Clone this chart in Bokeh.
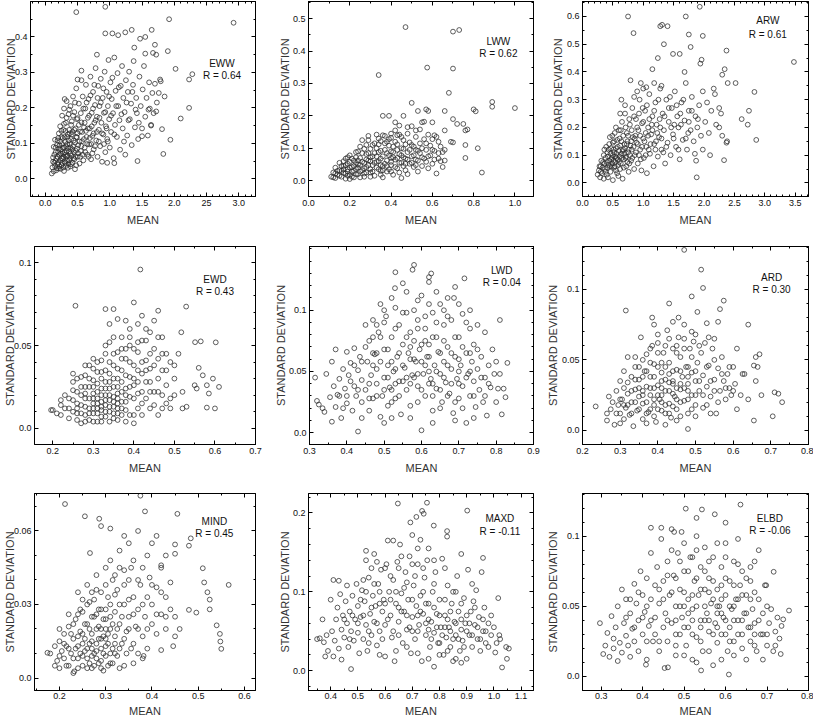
from bokeh.plotting import figure
from bokeh.models import Range1d, FixedTicker, LinearAxis, Label
from bokeh.layouts import column, row
from bokeh.embed import file_html
from bokeh.resources import INLINE

# ---------------- data (mean, standard deviation) ----------------
EWW = [(0.10,0.015),(0.11,0.032),(0.12,0.048),(0.13,0.021),(0.14,0.068),(0.15,0.036),(0.16,0.088),(0.17,0.024),(0.17,0.057),(0.19,0.108),(0.19,0.041),(0.20,0.076),(0.21,0.128),(0.21,0.029),(0.22,0.094),(0.23,0.052),(0.23,0.148),(0.24,0.071),(0.25,0.118),(0.25,0.038),(0.26,0.178),(0.27,0.088),(0.27,0.056),(0.28,0.138),(0.29,0.022),(0.29,0.198),(0.30,0.074),(0.31,0.104),(0.31,0.045),(0.32,0.158),(0.33,0.063),(0.33,0.219),(0.34,0.118),(0.35,0.031),(0.35,0.086),(0.36,0.182),(0.37,0.052),(0.37,0.138),(0.38,0.097),(0.39,0.205),(0.39,0.071),(0.40,0.041),(0.41,0.125),(0.41,0.162),(0.42,0.083),(0.43,0.232),(0.44,0.058),(0.44,0.108),(0.45,0.188),(0.46,0.027),(0.47,0.142),(0.47,0.079),(0.48,0.255),(0.49,0.117),(0.50,0.062),(0.50,0.171),(0.51,0.095),(0.52,0.212),(0.53,0.043),(0.54,0.133),(0.55,0.078),(0.56,0.278),(0.56,0.159),(0.57,0.106),(0.58,0.232),(0.59,0.052),(0.60,0.145),(0.61,0.088),(0.62,0.198),(0.63,0.265),(0.64,0.118),(0.65,0.068),(0.66,0.172),(0.67,0.225),(0.68,0.097),(0.69,0.142),(0.70,0.288),(0.71,0.055),(0.72,0.186),(0.73,0.121),(0.74,0.245),(0.75,0.083),(0.76,0.158),(0.77,0.208),(0.78,0.312),(0.79,0.108),(0.80,0.175),(0.81,0.062),(0.82,0.262),(0.83,0.138),(0.84,0.205),(0.85,0.092),(0.86,0.282),(0.87,0.158),(0.88,0.048),(0.89,0.228),(0.90,0.125),(0.91,0.186),(0.92,0.302),(0.93,0.075),(0.94,0.148),(0.95,0.245),(0.96,0.112),(0.97,0.205),(0.98,0.335),(0.99,0.168),(1.00,0.088),(1.01,0.272),(1.02,0.132),(1.03,0.225),(1.05,0.185),(1.06,0.058),(1.07,0.342),(1.08,0.152),(1.09,0.248),(1.11,0.118),(1.12,0.298),(1.13,0.205),(1.15,0.165),(1.16,0.082),(1.17,0.262),(1.19,0.318),(1.20,0.142),(1.21,0.228),(1.23,0.188),(1.24,0.068),(1.25,0.278),(1.27,0.122),(1.28,0.245),(1.30,0.302),(1.31,0.168),(1.33,0.212),(1.34,0.095),(1.36,0.265),(1.37,0.332),(1.39,0.145),(1.41,0.228),(1.42,0.185),(1.44,0.112),(1.46,0.288),(1.48,0.205),(1.50,0.142),(1.51,0.252),(1.53,0.318),(1.55,0.175),(1.57,0.228),(1.59,0.122),(1.61,0.272),(1.62,0.198),(1.64,0.152),(1.66,0.242),(1.68,0.185),(1.70,0.268),(1.73,0.215),(1.76,0.242),(1.79,0.275),
       (0.48,0.47),(0.93,0.485),(1.92,0.45),(2.92,0.44),(0.93,0.41),(1.04,0.41),(1.13,0.405),(1.24,0.413),(1.34,0.42),(1.65,0.42),(1.55,0.40),(1.47,0.395),(1.38,0.37),(1.70,0.378),(1.67,0.355),(1.72,0.35),(1.55,0.353),(1.90,0.36),(0.80,0.35),(2.02,0.31),(2.23,0.28),(2.28,0.295),(2.23,0.20),(2.10,0.17),(1.94,0.11),(1.83,0.07),(1.81,0.14),(1.85,0.232),(1.43,0.05),(1.07,0.044),(0.96,0.045),(0.56,0.305),(0.50,0.28),(0.30,0.225),(1.60,0.195),(1.72,0.19),(1.78,0.28),(1.64,0.15),(1.50,0.12)]
EWW_CORE = [(0.12,0.06),(0.13,0.09),(0.14,0.045),(0.15,0.11),(0.16,0.05),(0.16,0.075),(0.18,0.03),(0.18,0.095),(0.19,0.062),(0.20,0.045),(0.20,0.115),(0.21,0.085),(0.22,0.035),(0.22,0.068),(0.23,0.105),(0.24,0.028),(0.24,0.082),(0.25,0.058),(0.25,0.135),(0.26,0.045),(0.26,0.098),(0.27,0.072),(0.27,0.115),(0.28,0.032),(0.28,0.062),(0.29,0.088),(0.29,0.155),(0.30,0.048),(0.30,0.118),(0.31,0.068),(0.31,0.135),(0.32,0.036),(0.32,0.092),(0.33,0.078),(0.33,0.172),(0.34,0.052),(0.34,0.098),(0.35,0.125),(0.35,0.065),(0.36,0.042),(0.36,0.108),(0.37,0.078),(0.37,0.195),(0.38,0.058),(0.38,0.128),(0.39,0.088),(0.39,0.035),(0.40,0.112),(0.40,0.152),(0.41,0.065),(0.42,0.045),(0.42,0.132),(0.43,0.092),(0.43,0.178),(0.44,0.075),(0.45,0.138),(0.45,0.055),(0.46,0.102),(0.46,0.215),(0.47,0.062),(0.48,0.118),(0.48,0.038),(0.49,0.085),(0.49,0.168),(0.50,0.128),(0.51,0.072),(0.52,0.152),(0.53,0.105),(0.54,0.062),(0.55,0.185),(0.56,0.092),(0.57,0.132),(0.58,0.068),(0.59,0.198),(0.60,0.112),(0.61,0.158),(0.62,0.075),(0.63,0.135),(0.64,0.215),(0.65,0.098),(0.66,0.142),(0.67,0.062),(0.68,0.178),(0.69,0.115),(0.70,0.235),(0.71,0.098),(0.72,0.148),(0.73,0.072),(0.74,0.198),(0.75,0.128),(0.76,0.265),(0.77,0.092),(0.78,0.165),(0.80,0.132),(0.81,0.228),(0.83,0.105),(0.84,0.172),(0.86,0.215),(0.88,0.128),(0.90,0.255),(0.91,0.098),(0.93,0.188),(0.95,0.142),(0.97,0.105),(0.99,0.232),(1.02,0.178),(1.04,0.285),(1.07,0.125),(1.10,0.205),(1.14,0.258),(1.18,0.182),(1.22,0.105),(1.26,0.215),(1.29,0.165),(1.35,0.245),(1.40,0.195),(1.45,0.158)]

LWW = [(0.11,0.012),(0.12,0.025),(0.13,0.008),(0.13,0.04),(0.14,0.018),(0.15,0.032),(0.15,0.055),(0.16,0.012),(0.17,0.045),(0.17,0.024),(0.18,0.068),(0.18,0.006),(0.19,0.035),(0.19,0.052),(0.20,0.018),(0.20,0.078),(0.21,0.042),(0.21,0.028),(0.22,0.062),(0.22,0.01),(0.23,0.088),(0.23,0.036),(0.24,0.05),(0.24,0.02),(0.25,0.105),(0.25,0.07),(0.26,0.032),(0.26,0.125),(0.27,0.055),(0.27,0.012),(0.28,0.082),(0.28,0.042),(0.29,0.138),(0.29,0.062),(0.30,0.025),(0.30,0.098),(0.31,0.048),(0.31,0.075),(0.32,0.115),(0.32,0.015),(0.33,0.058),(0.33,0.142),(0.34,0.035),(0.34,0.088),(0.35,0.068),(0.35,0.122),(0.36,0.045),(0.36,0.01),(0.37,0.095),(0.37,0.138),(0.38,0.062),(0.38,0.028),(0.39,0.108),(0.39,0.078),(0.40,0.048),(0.40,0.132),(0.41,0.018),(0.41,0.088),(0.42,0.065),(0.42,0.155),(0.43,0.112),(0.43,0.038),(0.44,0.082),(0.44,0.142),(0.45,0.055),(0.45,0.008),(0.46,0.098),(0.46,0.125),(0.47,0.068),(0.47,0.032),(0.48,0.145),(0.48,0.088),(0.49,0.052),(0.49,0.118),(0.50,0.075),(0.50,0.168),(0.51,0.042),(0.51,0.105),(0.52,0.135),(0.52,0.065),(0.53,0.092),(0.53,0.028),(0.54,0.158),(0.54,0.115),(0.55,0.072),(0.55,0.045),(0.56,0.128),(0.56,0.182),(0.57,0.095),(0.57,0.058),(0.58,0.142),(0.58,0.038),(0.59,0.108),(0.59,0.078),(0.60,0.128),(0.60,0.052),(0.61,0.092),(0.62,0.135),(0.62,0.022),(0.63,0.068),(0.64,0.105),(0.65,0.042),(0.65,0.088),(0.66,0.062),(0.66,0.095),(0.27,0.022),(0.23,0.055),(0.19,0.015),(0.16,0.03),(0.30,0.06),(0.35,0.03),(0.40,0.07),(0.45,0.10),(0.38,0.12),(0.33,0.10),(0.28,0.11),(0.24,0.09),
       (0.47,0.474),(0.70,0.46),(0.73,0.465),(0.34,0.326),(0.575,0.349),(0.70,0.346),(0.68,0.271),(0.89,0.243),(0.89,0.228),(1.0,0.224),(0.80,0.22),(0.81,0.214),(0.50,0.24),(0.57,0.22),(0.58,0.215),(0.53,0.215),(0.46,0.20),(0.36,0.20),(0.39,0.20),(0.66,0.215),(0.70,0.19),(0.72,0.175),(0.75,0.175),(0.76,0.155),(0.77,0.158),(0.69,0.12),(0.70,0.118),(0.76,0.11),(0.76,0.07),(0.82,0.10),(0.84,0.025),(0.61,0.14),(0.55,0.18),(0.60,0.18),(0.66,0.155),(0.63,0.12),(0.42,0.18),(0.48,0.165),(0.52,0.155),(0.44,0.17)]
LWW_CORE = [(0.14,0.03),(0.15,0.015),(0.16,0.045),(0.17,0.035),(0.17,0.06),(0.18,0.022),(0.18,0.048),(0.19,0.072),(0.19,0.028),(0.20,0.04),(0.20,0.058),(0.21,0.012),(0.21,0.068),(0.22,0.045),(0.22,0.03),(0.23,0.02),(0.23,0.072),(0.24,0.04),(0.24,0.062),(0.25,0.028),(0.25,0.048),(0.26,0.085),(0.26,0.058),(0.27,0.038),(0.27,0.098),(0.28,0.025),(0.28,0.065),(0.29,0.048),(0.29,0.085),(0.30,0.035),(0.30,0.072),(0.31,0.11),(0.31,0.028),(0.32,0.055),(0.32,0.085),(0.33,0.04),(0.33,0.075),(0.34,0.06),(0.34,0.112),(0.35,0.048),(0.35,0.092),(0.36,0.075),(0.36,0.032),(0.37,0.052),(0.37,0.115),(0.38,0.085),(0.38,0.045),(0.39,0.035),(0.39,0.128),(0.40,0.09),(0.40,0.058),(0.41,0.072),(0.41,0.105),(0.42,0.042),(0.42,0.12),(0.43,0.07),(0.43,0.095),(0.44,0.055),(0.44,0.025),(0.45,0.078),(0.45,0.135),(0.46,0.045),(0.46,0.072),(0.47,0.112),(0.47,0.052),(0.48,0.065),(0.48,0.02),(0.49,0.095),(0.50,0.055),(0.50,0.11),(0.51,0.078),(0.52,0.048),(0.52,0.095),(0.53,0.062),(0.54,0.085),(0.55,0.10),(0.56,0.068),(0.57,0.115),(0.58,0.075),(0.60,0.095),(0.61,0.065),(0.63,0.085),(0.64,0.06),(0.20,0.005),(0.25,0.01),(0.30,0.012),(0.35,0.018),(0.40,0.028),(0.13,0.022),(0.12,0.01),(0.29,0.125),(0.34,0.13),(0.36,0.14),(0.40,0.145),(0.43,0.14)]

ARW = [(0.25,0.03),(0.27,0.045),(0.29,0.02),(0.30,0.06),(0.32,0.035),(0.34,0.075),(0.35,0.015),(0.37,0.05),(0.38,0.09),(0.40,0.03),(0.41,0.11),(0.43,0.065),(0.44,0.14),(0.46,0.04),(0.47,0.085),(0.49,0.17),(0.50,0.01),(0.51,0.12),(0.53,0.06),(0.54,0.095),(0.55,0.2),(0.57,0.035),(0.58,0.13),(0.60,0.075),(0.61,0.16),(0.62,0.05),(0.64,0.105),(0.65,0.22),(0.66,0.015),(0.68,0.085),(0.69,0.14),(0.70,0.25),(0.72,0.06),(0.73,0.18),(0.75,0.11),(0.76,0.04),(0.78,0.21),(0.79,0.135),(0.80,0.08),(0.82,0.27),(0.83,0.165),(0.85,0.05),(0.86,0.1),(0.88,0.23),(0.89,0.145),(0.91,0.07),(0.92,0.19),(0.94,0.3),(0.95,0.12),(0.97,0.045),(0.98,0.215),(1.00,0.16),(1.01,0.09),(1.03,0.26),(1.05,0.13),(1.06,0.035),(1.08,0.2),(1.10,0.32),(1.11,0.105),(1.13,0.175),(1.15,0.24),(1.17,0.06),(1.18,0.14),(1.20,0.29),(1.22,0.21),(1.24,0.095),(1.26,0.165),(1.28,0.34),(1.30,0.12),(1.32,0.25),(1.34,0.19),(1.36,0.07),(1.38,0.3),(1.40,0.145),(1.42,0.22),(1.45,0.1),(1.47,0.27),(1.49,0.175),(1.52,0.33),(1.54,0.13),(1.56,0.24),(1.58,0.2),(1.60,0.085),(1.63,0.29),(1.65,0.155),(1.68,0.225),(1.70,0.36),(1.72,0.12),(1.75,0.26),(1.78,0.19),(1.80,0.31),(1.83,0.15),(1.86,0.24),(1.89,0.2),(1.92,0.28),(1.95,0.17),(1.98,0.33),(2.02,0.22),(2.05,0.29),(2.08,0.18),(2.12,0.26),(2.16,0.34),(2.20,0.21),(2.25,0.27),(2.30,0.17),(0.36,0.12),(0.42,0.02),(0.48,0.06),(0.52,0.15),(0.56,0.09),(0.59,0.025),(0.63,0.19),(0.67,0.12),(0.71,0.09),(0.74,0.15),(0.77,0.07),(0.81,0.12),(0.87,0.17),(0.93,0.1),(0.99,0.27),(1.04,0.18),(1.09,0.12),(1.14,0.21),(1.21,0.15),(1.27,0.23),(1.33,0.11),(1.44,0.31),(1.51,0.21),(1.61,0.25),(1.74,0.18),(1.85,0.105),
       (0.75,0.60),(0.84,0.54),(1.28,0.565),(1.31,0.57),(1.40,0.565),(1.34,0.50),(1.70,0.60),(1.93,0.635),(1.98,0.53),(1.75,0.535),(1.78,0.49),(1.49,0.465),(1.60,0.465),(2.37,0.477),(1.96,0.444),(1.94,0.43),(3.48,0.436),(1.24,0.45),(2.83,0.328),(2.34,0.41),(2.30,0.39),(2.39,0.36),(2.52,0.36),(2.62,0.23),(2.74,0.26),(2.72,0.21),(2.86,0.155),(2.33,0.082),(1.88,0.02),(1.87,0.08),(2.38,0.15),(2.37,0.145),(0.64,0.30),(0.79,0.37),(0.96,0.36),(1.15,0.41),(1.05,0.345),(1.68,0.40),(2.18,0.32),(2.25,0.2),(2.10,0.1),(1.98,0.12),(2.28,0.25)]
ARW_CORE = [(0.28,0.06),(0.30,0.04),(0.31,0.08),(0.33,0.055),(0.35,0.10),(0.36,0.07),(0.38,0.04),(0.39,0.13),(0.40,0.075),(0.41,0.055),(0.42,0.095),(0.43,0.12),(0.44,0.08),(0.45,0.06),(0.45,0.165),(0.46,0.105),(0.47,0.125),(0.48,0.09),(0.49,0.07),(0.50,0.10),(0.50,0.145),(0.51,0.08),(0.52,0.055),(0.52,0.11),(0.53,0.18),(0.54,0.075),(0.55,0.125),(0.55,0.045),(0.56,0.105),(0.57,0.155),(0.58,0.085),(0.59,0.065),(0.60,0.115),(0.60,0.19),(0.61,0.095),(0.62,0.135),(0.63,0.07),(0.64,0.15),(0.65,0.09),(0.66,0.115),(0.67,0.17),(0.68,0.055),(0.69,0.105),(0.70,0.125),(0.71,0.20),(0.72,0.095),(0.73,0.14),(0.74,0.075),(0.75,0.17),(0.76,0.12),(0.77,0.23),(0.78,0.10),(0.80,0.15),(0.81,0.19),(0.82,0.09),(0.84,0.13),(0.85,0.24),(0.86,0.16),(0.88,0.11),(0.90,0.20),(0.91,0.14),(0.93,0.25),(0.95,0.17),(0.96,0.085),(0.98,0.13),(1.00,0.22),(1.02,0.15),(1.04,0.10),(1.06,0.28),(1.08,0.17),(1.10,0.23),(1.12,0.14),(1.15,0.19),(1.18,0.26),(1.20,0.12),(1.23,0.18),(1.25,0.30),(1.28,0.20),(1.30,0.16),(1.35,0.24),(1.38,0.13),(1.42,0.27),(1.46,0.20),(1.50,0.16),(1.55,0.28),(1.58,0.12),(1.62,0.21),(1.66,0.30),(1.70,0.16),(1.75,0.22),(1.80,0.26),(1.90,0.23),(0.62,0.25),(0.70,0.28),(0.85,0.31),(0.90,0.33),(1.00,0.34),(1.18,0.36),(1.30,0.35)]

EWD = [(0.20,0.011),(0.22,0.008),(0.22,0.014),(0.23,0.02),(0.24,0.006),(0.24,0.012),(0.25,0.017),(0.25,0.028),(0.26,0.009),(0.26,0.022),(0.27,0.014),(0.27,0.003),(0.27,0.031),(0.28,0.018),(0.28,0.008),(0.28,0.025),(0.29,0.012),(0.29,0.038),(0.29,0.005),(0.30,0.021),(0.30,0.015),(0.30,0.029),(0.30,0.009),(0.31,0.018),(0.31,0.034),(0.31,0.004),(0.31,0.012),(0.32,0.024),(0.32,0.016),(0.32,0.041),(0.32,0.007),(0.33,0.014),(0.33,0.028),(0.33,0.02),(0.33,0.045),(0.34,0.01),(0.34,0.033),(0.34,0.017),(0.34,0.052),(0.35,0.025),(0.35,0.006),(0.35,0.038),(0.35,0.013),(0.36,0.021),(0.36,0.046),(0.36,0.03),(0.36,0.009),(0.37,0.016),(0.37,0.055),(0.37,0.035),(0.38,0.024),(0.38,0.042),(0.38,0.011),(0.39,0.031),(0.39,0.019),(0.39,0.05),(0.40,0.026),(0.40,0.038),(0.40,0.008),(0.41,0.046),(0.41,0.021),(0.42,0.033),(0.42,0.015),(0.42,0.053),(0.43,0.028),(0.43,0.041),(0.44,0.022),(0.44,0.036),(0.45,0.048),(0.45,0.014),(0.46,0.03),(0.46,0.042),(0.47,0.02),(0.47,0.035),(0.48,0.026),(0.48,0.045),(0.49,0.018),(0.50,0.038),(0.50,0.03),(0.51,0.045),(0.52,0.022),(0.29,0.025),(0.31,0.027),(0.33,0.007),(0.35,0.019),(0.37,0.008),(0.26,0.015),(0.28,0.032),(0.34,0.024),(0.36,0.015),(0.38,0.004),(0.32,0.011),(0.30,0.036),
       (0.416,0.0959),(0.256,0.074),(0.40,0.076),(0.33,0.072),(0.35,0.072),(0.529,0.0735),(0.46,0.071),(0.517,0.058),(0.551,0.052),(0.565,0.0525),(0.602,0.0519),(0.56,0.0365),(0.57,0.032),(0.55,0.026),(0.58,0.026),(0.585,0.021),(0.61,0.025),(0.58,0.0125),(0.60,0.012),(0.196,0.011),(0.25,0.033),(0.53,0.013),(0.52,0.012),(0.49,0.012),(0.34,0.063),(0.36,0.066),(0.38,0.065),(0.41,0.063),(0.44,0.058),(0.45,0.065),(0.47,0.055),(0.43,0.053),(0.39,0.06),(0.555,0.024),(0.595,0.03),(0.42,0.068),(0.47,0.012),(0.46,0.008)]
EWD_CORE = [(0.23,0.012),(0.24,0.018),(0.25,0.01),(0.25,0.023),(0.26,0.005),(0.26,0.03),(0.27,0.02),(0.27,0.009),(0.27,0.025),(0.28,0.013),(0.28,0.038),(0.28,0.004),(0.29,0.018),(0.29,0.03),(0.29,0.009),(0.30,0.012),(0.30,0.025),(0.30,0.042),(0.30,0.004),(0.31,0.009),(0.31,0.022),(0.31,0.015),(0.31,0.04),(0.32,0.02),(0.32,0.013),(0.32,0.03),(0.32,0.004),(0.33,0.017),(0.33,0.024),(0.33,0.01),(0.33,0.035),(0.34,0.013),(0.34,0.02),(0.34,0.004),(0.34,0.04),(0.35,0.016),(0.35,0.03),(0.35,0.009),(0.35,0.045),(0.36,0.012),(0.36,0.025),(0.36,0.036),(0.36,0.005),(0.37,0.012),(0.37,0.022),(0.37,0.042),(0.37,0.028),(0.38,0.016),(0.38,0.032),(0.38,0.048),(0.39,0.008),(0.39,0.025),(0.39,0.04),(0.40,0.018),(0.40,0.03),(0.40,0.048),(0.41,0.012),(0.41,0.035),(0.41,0.028),(0.42,0.022),(0.42,0.04),(0.43,0.018),(0.43,0.035),(0.44,0.028),(0.44,0.045),(0.45,0.022),(0.45,0.038),(0.46,0.055),(0.47,0.045),(0.48,0.035),(0.49,0.04),(0.50,0.02),(0.44,0.012),(0.42,0.008),(0.40,0.003),(0.38,0.02),(0.36,0.018),(0.34,0.028),(0.32,0.034),(0.30,0.018),(0.28,0.021),(0.26,0.012),(0.22,0.017),(0.21,0.009),(0.33,0.05),(0.35,0.055),(0.37,0.048),(0.39,0.055),(0.41,0.052),(0.43,0.06),(0.46,0.022),(0.48,0.015)]

LWD = [(0.315,0.045),(0.32,0.026),(0.325,0.023),(0.335,0.02),(0.34,0.017),(0.345,0.048),(0.355,0.029),(0.36,0.058),(0.36,0.009),(0.365,0.038),(0.37,0.068),(0.37,0.021),(0.375,0.031),(0.38,0.044),(0.385,0.012),(0.39,0.052),(0.395,0.036),(0.40,0.066),(0.40,0.024),(0.405,0.047),(0.41,0.057),(0.415,0.018),(0.42,0.038),(0.42,0.069),(0.425,0.03),(0.43,0.001),(0.43,0.051),(0.435,0.062),(0.44,0.025),(0.44,0.043),
       (0.45,0.035),(0.45,0.088),(0.455,0.058),(0.46,0.018),(0.46,0.075),(0.465,0.047),(0.47,0.092),(0.47,0.028),(0.475,0.064),(0.48,0.04),(0.48,0.052),(0.485,0.082),(0.49,0.105),(0.49,0.013),(0.495,0.03),(0.50,0.068),(0.50,0.045),(0.505,0.095),(0.51,0.055),(0.51,0.022),(0.515,0.037),(0.52,0.078),(0.52,0.11),(0.525,0.05),(0.53,0.131),(0.53,0.028),(0.535,0.062),(0.54,0.088),(0.54,0.042),(0.545,0.015),(0.55,0.072),(0.55,0.122),(0.555,0.053),(0.56,0.098),(0.56,0.035),(0.565,0.065),(0.57,0.082),(0.57,0.022),(0.575,0.047),(0.58,0.137),(0.58,0.075),(0.585,0.058),(0.59,0.092),(0.59,0.038),(0.595,0.068),(0.60,0.112),(0.60,0.002),(0.605,0.048),(0.61,0.085),(0.61,0.03),(0.615,0.062),(0.62,0.127),(0.62,0.072),(0.625,0.044),(0.63,0.098),(0.63,0.018),(0.635,0.055),(0.64,0.078),(0.64,0.036),(0.645,0.066),(0.65,0.105),(0.65,0.048),(0.655,0.025),(0.66,0.088),(0.66,0.058),(0.665,0.041),(0.67,0.11),(0.67,0.07),(0.675,0.032),(0.68,0.052),(0.68,0.092),(0.685,0.016),(0.69,0.062),(0.69,0.119),(0.695,0.044),(0.70,0.078),(0.70,0.028),(0.705,0.055),(0.71,0.097),(0.71,0.038),(0.715,0.126),(0.72,0.065),(0.72,0.008),(0.725,0.048),(0.73,0.085),(0.73,0.03),(0.735,0.058),(0.74,0.072),(0.74,0.042),(0.745,0.021),(0.75,0.052),(0.75,0.088),
       (0.755,0.035),(0.76,0.062),(0.765,0.025),(0.77,0.082),(0.77,0.045),(0.775,0.014),(0.78,0.055),(0.785,0.037),(0.79,0.068),(0.795,0.048),(0.80,0.025),(0.80,0.058),(0.805,0.036),(0.81,0.092),(0.81,0.048),(0.815,0.015),(0.82,0.036),(0.825,0.029),(0.83,0.057),
       (0.57,0.06),(0.60,0.058),(0.62,0.05),(0.58,0.045),(0.55,0.042),(0.65,0.035),(0.53,0.052),(0.61,0.075),(0.59,0.025),(0.66,0.075),(0.48,0.065),(0.52,0.035),(0.47,0.055),(0.70,0.05),(0.63,0.04),(0.576,0.133),(0.529,0.118),(0.626,0.130),(0.62,0.123),(0.687,0.11)]
LWD_CORE = [(0.46,0.04),(0.47,0.065),(0.48,0.03),(0.49,0.058),(0.49,0.078),(0.50,0.035),(0.50,0.09),(0.51,0.045),(0.51,0.068),(0.52,0.025),(0.52,0.058),(0.53,0.04),(0.53,0.085),(0.54,0.065),(0.54,0.03),(0.55,0.055),(0.55,0.098),(0.56,0.045),(0.56,0.078),(0.57,0.04),(0.57,0.07),(0.58,0.06),(0.58,0.10),(0.59,0.048),(0.59,0.085),(0.60,0.035),(0.60,0.072),(0.61,0.055),(0.61,0.095),(0.62,0.04),(0.62,0.062),(0.63,0.078),(0.63,0.03),(0.64,0.05),(0.64,0.09),(0.65,0.065),(0.65,0.02),(0.66,0.045),(0.66,0.10),(0.67,0.055),(0.67,0.03),(0.68,0.065),(0.68,0.04),(0.69,0.078),(0.69,0.025),(0.70,0.06),(0.70,0.04),(0.71,0.07),(0.71,0.02),(0.72,0.045),(0.72,0.09),(0.73,0.05),(0.73,0.065),(0.74,0.03),(0.75,0.068),(0.76,0.045),(0.77,0.03),(0.78,0.04),(0.40,0.03),(0.41,0.042),(0.42,0.055),(0.43,0.035),(0.44,0.058),(0.45,0.07),(0.46,0.028),(0.47,0.078),(0.48,0.088),(0.50,0.10),(0.53,0.102),(0.56,0.115),(0.59,0.108),(0.62,0.105),(0.64,0.115),(0.67,0.095),(0.70,0.105),(0.73,0.10),(0.38,0.03),(0.39,0.02),(0.52,0.012),(0.57,0.012),(0.63,0.008),(0.69,0.01),(0.74,0.012),(0.50,0.008),(0.44,0.012)]

ARD = [(0.235,0.017),(0.265,0.007),(0.265,0.012),(0.27,0.024),(0.275,0.015),(0.285,0.004),(0.29,0.028),(0.295,0.018),(0.30,0.012),(0.30,0.035),(0.305,0.022),(0.31,0.008),(0.31,0.03),(0.315,0.016),(0.32,0.052),(0.32,0.026),(0.325,0.011),(0.33,0.038),(0.33,0.02),(0.335,0.003),(0.34,0.029),(0.34,0.045),(0.345,0.014),(0.35,0.024),(0.35,0.036),(0.355,0.066),(0.36,0.008),(0.36,0.019),(0.365,0.042),(0.37,0.031),(0.37,0.054),(0.375,0.013),(0.38,0.025),(0.38,0.038),(0.385,0.06),(0.39,0.018),(0.39,0.047),(0.395,0.006),(0.40,0.032),(0.40,0.068),(0.405,0.022),(0.41,0.041),(0.41,0.014),(0.415,0.055),(0.42,0.028),(0.42,0.036),(0.425,0.071),(0.43,0.019),(0.43,0.048),(0.435,0.009),(0.44,0.033),(0.44,0.058),(0.445,0.024),(0.45,0.043),(0.45,0.015),(0.455,0.066),(0.46,0.029),(0.46,0.052),(0.465,0.038),(0.47,0.021),(0.47,0.075),(0.475,0.045),(0.48,0.012),(0.48,0.033),(0.485,0.058),(0.49,0.025),(0.49,0.041),(0.495,0.063),(0.50,0.018),(0.50,0.035),(0.505,0.048),(0.51,0.028),(0.515,0.055),(0.52,0.039),(0.52,0.016),(0.525,0.062),(0.53,0.031),(0.535,0.046),(0.54,0.024),(0.545,0.058),(0.55,0.036),(0.555,0.012),(0.56,0.044),(0.565,0.028),(0.57,0.052),(0.575,0.035),(0.58,0.022),(0.585,0.04),(0.59,0.03),(0.595,0.025),(0.60,0.045),(0.605,0.033),(0.62,0.025),(0.63,0.04),(0.64,0.022),(0.38,0.015),(0.41,0.025),(0.43,0.028),(0.45,0.022),(0.39,0.03),(0.42,0.012),(0.37,0.02),(0.44,0.017),(0.40,0.045),(0.46,0.01),(0.36,0.028),(0.48,0.022),(0.41,0.035),(0.43,0.04),
       (0.47,0.128),(0.515,0.114),(0.52,0.101),(0.49,0.095),(0.315,0.085),(0.43,0.09),(0.575,0.092),(0.565,0.086),(0.64,0.075),(0.385,0.08),(0.39,0.075),(0.505,0.084),(0.71,0.027),(0.72,0.026),(0.73,0.02),(0.705,0.01),(0.655,0.007),(0.48,0.001),(0.66,0.052),(0.67,0.054),(0.665,0.045),(0.675,0.025),(0.66,0.035),(0.61,0.015),(0.455,0.08),(0.53,0.076),(0.44,0.077),(0.56,0.077),(0.49,0.07),(0.535,0.066),(0.55,0.065),(0.61,0.058),(0.655,0.046),(0.625,0.04)]
ARD_CORE = [(0.30,0.022),(0.31,0.018),(0.32,0.034),(0.33,0.012),(0.33,0.028),(0.34,0.02),(0.34,0.036),(0.35,0.015),(0.35,0.045),(0.36,0.025),(0.36,0.038),(0.37,0.012),(0.37,0.042),(0.38,0.03),(0.38,0.048),(0.39,0.022),(0.39,0.038),(0.40,0.015),(0.40,0.025),(0.40,0.055),(0.41,0.02),(0.41,0.048),(0.42,0.018),(0.42,0.045),(0.42,0.06),(0.43,0.012),(0.43,0.034),(0.44,0.026),(0.44,0.042),(0.45,0.03),(0.45,0.055),(0.46,0.02),(0.46,0.042),(0.47,0.03),(0.47,0.058),(0.48,0.045),(0.48,0.028),(0.49,0.015),(0.49,0.052),(0.50,0.025),(0.50,0.042),(0.51,0.035),(0.51,0.06),(0.52,0.025),(0.53,0.045),(0.53,0.018),(0.54,0.035),(0.55,0.028),(0.55,0.05),(0.56,0.02),(0.57,0.04),(0.58,0.03),(0.59,0.045),(0.60,0.028),(0.36,0.05),(0.38,0.058),(0.40,0.062),(0.43,0.065),(0.45,0.06),(0.47,0.065),(0.50,0.068),(0.34,0.052),(0.31,0.042),(0.29,0.012),(0.28,0.02),(0.30,0.005),(0.37,0.005),(0.42,0.004),(0.45,0.007),(0.50,0.01),(0.54,0.012),(0.32,0.018),(0.35,0.03),(0.39,0.01),(0.41,0.03),(0.44,0.035),(0.46,0.033),(0.48,0.038)]

MIND = [(0.18,0.01),(0.19,0.013),(0.195,0.007),(0.20,0.015),(0.20,0.004),(0.205,0.011),(0.21,0.018),(0.21,0.008),(0.215,0.013),(0.22,0.005),(0.22,0.021),(0.225,0.01),(0.23,0.016),(0.23,0.002),(0.235,0.024),(0.24,0.008),(0.24,0.013),(0.245,0.019),(0.25,0.005),(0.25,0.027),(0.255,0.011),(0.255,0.016),(0.26,0.022),(0.26,0.008),(0.265,0.031),(0.265,0.014),(0.27,0.004),(0.27,0.018),(0.275,0.025),(0.275,0.01),(0.28,0.036),(0.28,0.014),(0.285,0.006),(0.285,0.021),(0.29,0.012),(0.29,0.028),(0.295,0.017),(0.295,0.003),(0.30,0.009),(0.30,0.024),(0.305,0.014),(0.305,0.033),(0.31,0.02),(0.31,0.006),(0.315,0.04),(0.315,0.012),(0.32,0.027),(0.32,0.017),(0.325,0.009),(0.325,0.036),(0.33,0.022),(0.33,0.045),(0.335,0.014),(0.34,0.03),(0.34,0.005),(0.345,0.019),(0.35,0.04),(0.35,0.025),(0.355,0.012),(0.36,0.033),(0.36,0.048),(0.365,0.021),(0.37,0.028),(0.37,0.01),(0.375,0.038),(0.38,0.017),(0.38,0.045),(0.385,0.025),(0.39,0.033),(0.39,0.012),(0.395,0.041),(0.40,0.022),(0.40,0.03),(0.41,0.018),(0.41,0.037),(0.42,0.026),(0.42,0.045),(0.43,0.02),(0.43,0.033),(0.44,0.039),(0.45,0.025),(0.26,0.004),(0.28,0.008),(0.29,0.02),(0.27,0.012),(0.30,0.016),(0.25,0.018),(0.31,0.025),(0.29,0.007),(0.32,0.01),(0.28,0.026),(0.24,0.026),(0.30,0.038),
        (0.212,0.071),(0.255,0.066),(0.375,0.0744),(0.385,0.068),(0.455,0.067),(0.286,0.065),(0.29,0.062),(0.31,0.061),(0.266,0.051),(0.484,0.057),(0.48,0.054),(0.45,0.0545),(0.45,0.0507),(0.51,0.0448),(0.513,0.039),(0.566,0.038),(0.52,0.035),(0.525,0.032),(0.525,0.028),(0.48,0.0278),(0.496,0.0267),(0.54,0.0215),(0.547,0.018),(0.548,0.0149),(0.55,0.0119),(0.174,0.0103),(0.232,0.0027),(0.382,0.009),(0.42,0.0114),(0.446,0.013),(0.34,0.058),(0.35,0.055),(0.37,0.06),(0.33,0.052),(0.40,0.055),(0.41,0.058),(0.39,0.05),(0.43,0.05),(0.42,0.046),(0.44,0.028),(0.46,0.02),(0.45,0.017)]
MIND_CORE = [(0.20,0.009),(0.21,0.014),(0.215,0.005),(0.22,0.012),(0.225,0.018),(0.23,0.008),(0.23,0.022),(0.235,0.012),(0.24,0.004),(0.24,0.017),(0.245,0.01),(0.245,0.028),(0.25,0.014),(0.25,0.009),(0.255,0.022),(0.26,0.012),(0.26,0.03),(0.265,0.006),(0.265,0.02),(0.27,0.009),(0.27,0.025),(0.27,0.015),(0.275,0.005),(0.275,0.032),(0.28,0.011),(0.28,0.02),(0.285,0.016),(0.285,0.028),(0.29,0.004),(0.29,0.016),(0.29,0.035),(0.295,0.01),(0.295,0.024),(0.30,0.013),(0.30,0.02),(0.30,0.028),(0.305,0.005),(0.305,0.018),(0.31,0.01),(0.31,0.03),(0.315,0.022),(0.315,0.006),(0.32,0.014),(0.32,0.034),(0.325,0.02),(0.33,0.012),(0.33,0.03),(0.335,0.025),(0.34,0.016),(0.34,0.038),(0.345,0.01),(0.35,0.02),(0.35,0.032),(0.355,0.045),(0.36,0.014),(0.36,0.026),(0.37,0.02),(0.37,0.04),(0.38,0.03),(0.38,0.008),(0.39,0.02),(0.40,0.038),(0.41,0.026),(0.42,0.035),(0.43,0.025),(0.27,0.035),(0.26,0.038),(0.28,0.042),(0.30,0.045),(0.31,0.048),(0.32,0.042),(0.34,0.044),(0.25,0.032),(0.22,0.026),(0.20,0.02),(0.19,0.005),(0.24,0.035),(0.33,0.004),(0.36,0.006)]

MAXD = [(0.35,0.04),(0.36,0.041),(0.37,0.065),(0.375,0.036),(0.38,0.018),(0.385,0.045),(0.39,0.025),(0.40,0.09),(0.405,0.05),(0.41,0.115),(0.41,0.018),(0.415,0.038),(0.42,0.065),(0.425,0.08),(0.43,0.028),(0.435,0.097),(0.44,0.052),(0.44,0.014),(0.445,0.07),(0.45,0.042),(0.455,0.088),(0.46,0.06),(0.46,0.108),(0.465,0.03),(0.47,0.075),(0.475,0.002),(0.475,0.05),(0.48,0.095),(0.485,0.038),(0.49,0.065),(0.495,0.11),(0.50,0.048),(0.50,0.082),(0.505,0.022),(0.51,0.068),(0.515,0.102),(0.52,0.04),(0.525,0.088),(0.53,0.152),(0.53,0.058),(0.535,0.025),(0.54,0.118),(0.545,0.072),(0.55,0.045),(0.555,0.095),(0.56,0.148),(0.56,0.062),(0.565,0.082),(0.57,0.032),(0.575,0.11),(0.58,0.05),(0.585,0.128),(0.59,0.075),(0.595,0.09),(0.60,0.018),(0.60,0.058),(0.605,0.135),(0.61,0.165),(0.615,0.1),(0.62,0.07),(0.625,0.042),(0.63,0.115),(0.635,0.012),(0.64,0.085),(0.645,0.138),(0.65,0.062),(0.655,0.16),(0.66,0.098),(0.665,0.035),(0.67,0.075),(0.675,0.125),(0.68,0.052),(0.685,0.09),(0.69,0.145),(0.695,0.022),(0.70,0.068),(0.705,0.108),(0.71,0.04),(0.715,0.082),(0.72,0.135),(0.725,0.058),(0.73,0.095),(0.735,0.012),(0.74,0.072),(0.745,0.118),(0.75,0.045),(0.755,0.14),(0.76,0.085),(0.765,0.03),(0.77,0.062),(0.775,0.1),(0.78,0.005),(0.78,0.048),(0.785,0.125),(0.79,0.072),(0.795,0.035),(0.80,0.09),(0.805,0.055),(0.81,0.142),(0.815,0.02),(0.82,0.07),(0.825,0.042),(0.83,0.108),(0.835,0.055),(0.84,0.03),(0.845,0.085),(0.85,0.012),(0.855,0.062),(0.86,0.045),(0.865,0.12),(0.87,0.075),(0.875,0.025),(0.88,0.148),(0.88,0.052),(0.885,0.038),(0.89,0.092),(0.895,0.06),(0.90,0.015),(0.905,0.128),(0.91,0.045),(0.915,0.075),(0.92,0.03),(0.925,0.088),(0.93,0.058),(0.935,0.102),(0.94,0.04),(0.945,0.068),(0.95,0.025),(0.955,0.125),(0.96,0.05),(0.965,0.08),(0.97,0.035),(0.98,0.06),(0.99,0.045),(1.00,0.055),(1.005,0.023),(1.01,0.035),(1.02,0.045),(1.023,0.04),(1.03,0.004),(1.045,0.03),(1.048,0.015),(1.055,0.028),(1.016,0.092),
        (0.65,0.08),(0.72,0.07),(0.75,0.06),(0.78,0.08),(0.82,0.055),(0.85,0.04),(0.88,0.065),(0.62,0.09),(0.58,0.085),(0.70,0.05),(0.68,0.112),(0.76,0.052),(0.80,0.035),(0.84,0.075),(0.90,0.05),
        (0.647,0.212),(0.754,0.213),(0.902,0.203),(0.736,0.2026),(0.742,0.199),(0.715,0.195),(0.693,0.188),(0.779,0.184),(0.828,0.177),(0.828,0.17),(0.70,0.172),(0.73,0.166),(0.63,0.165),(0.96,0.143),(0.43,0.114)]
MAXD_CORE = [(0.50,0.06),(0.51,0.09),(0.52,0.07),(0.53,0.10),(0.54,0.05),(0.55,0.08),(0.56,0.11),(0.57,0.06),(0.58,0.10),(0.59,0.04),(0.60,0.085),(0.61,0.065),(0.62,0.12),(0.63,0.05),(0.64,0.10),(0.65,0.045),(0.66,0.075),(0.67,0.105),(0.68,0.07),(0.69,0.055),(0.70,0.09),(0.71,0.12),(0.72,0.05),(0.73,0.075),(0.74,0.10),(0.75,0.085),(0.76,0.065),(0.77,0.04),(0.78,0.11),(0.79,0.055),(0.80,0.07),(0.81,0.045),(0.82,0.09),(0.83,0.065),(0.84,0.05),(0.85,0.10),(0.86,0.06),(0.87,0.04),(0.88,0.085),(0.89,0.03),(0.90,0.07),(0.91,0.06),(0.92,0.045),(0.93,0.08),(0.94,0.055),(0.95,0.04),(0.96,0.065),(0.97,0.05),(0.98,0.03),(0.99,0.07),(0.80,0.02),(0.83,0.025),(0.86,0.015),(0.88,0.01),(0.76,0.015),(0.72,0.022),(0.68,0.03),(0.64,0.025),(0.58,0.02),(0.54,0.035),(0.60,0.13),(0.65,0.13),(0.70,0.135),(0.74,0.13),(0.78,0.14),(0.82,0.13),(0.86,0.10),(0.92,0.11),(0.66,0.145),(0.72,0.155),(0.76,0.155),(0.45,0.065),(0.47,0.04),(0.48,0.07),(0.52,0.115),(0.55,0.13),(0.57,0.138),(0.53,0.14)]

ELBD = [(0.297,0.038),(0.305,0.016),(0.31,0.022),(0.315,0.031),(0.32,0.014),(0.325,0.043),(0.33,0.027),(0.335,0.035),(0.34,0.011),(0.34,0.05),(0.345,0.024),(0.35,0.062),(0.35,0.017),(0.355,0.038),(0.36,0.029),(0.36,0.055),(0.365,0.022),(0.37,0.045),(0.37,0.014),(0.375,0.034),(0.38,0.066),(0.38,0.025),(0.385,0.052),(0.39,0.04),(0.39,0.018),(0.395,0.075),(0.40,0.03),(0.40,0.058),(0.405,0.046),(0.41,0.012),(0.41,0.07),(0.415,0.036),(0.42,0.088),(0.42,0.055),(0.425,0.025),(0.43,0.065),(0.43,0.042),(0.435,0.078),(0.44,0.018),(0.44,0.052),(0.445,0.098),(0.45,0.035),(0.45,0.068),(0.455,0.045),(0.46,0.025),(0.46,0.082),(0.465,0.058),(0.47,0.038),(0.47,0.105),(0.475,0.072),(0.48,0.015),(0.48,0.05),(0.485,0.088),(0.49,0.03),(0.49,0.062),(0.495,0.042),(0.50,0.095),(0.50,0.075),(0.505,0.022),(0.51,0.055),(0.51,0.035),(0.515,0.085),(0.52,0.048),(0.52,0.012),(0.525,0.068),(0.53,0.028),(0.53,0.1),(0.535,0.058),(0.54,0.04),(0.54,0.078),(0.545,0.018),(0.55,0.062),(0.55,0.092),(0.555,0.045),(0.56,0.032),(0.56,0.07),(0.565,0.052),(0.57,0.008),(0.57,0.085),(0.575,0.038),(0.58,0.062),(0.58,0.024),(0.585,0.05),(0.59,0.078),(0.59,0.03),(0.595,0.042),(0.60,0.095),(0.60,0.058),(0.605,0.018),(0.61,0.068),(0.61,0.035),(0.615,0.048),(0.62,0.082),(0.62,0.025),(0.625,0.055),(0.63,0.04),(0.63,0.098),(0.635,0.065),(0.64,0.03),(0.64,0.075),(0.645,0.045),(0.65,0.058),(0.65,0.012),(0.655,0.035),(0.66,0.068),(0.66,0.025),(0.665,0.048),(0.67,0.082),(0.67,0.038),(0.675,0.018),(0.68,0.055),(0.685,0.03),(0.69,0.045),(0.695,0.065),(0.70,0.022),(0.705,0.038),(0.71,0.048),(0.715,0.018),(0.72,0.032),(0.725,0.042),(0.73,0.027),(0.735,0.036),
        (0.55,0.04),(0.58,0.045),(0.52,0.03),(0.60,0.04),(0.57,0.055),(0.62,0.05),(0.50,0.05),(0.54,0.025),(0.59,0.065),(0.48,0.04),
        (0.636,0.1225),(0.504,0.1196),(0.543,0.119),(0.574,0.1156),(0.53,0.113),(0.60,0.1096),(0.445,0.106),(0.42,0.106),(0.476,0.103),(0.494,0.103),(0.716,0.0746),(0.753,0.047),(0.739,0.0407),(0.733,0.016),(0.608,0.0014),(0.541,0.0043),(0.453,0.006),(0.461,0.0065),(0.408,0.0084),(0.698,0.065),(0.68,0.09)]
ELBD_CORE = [(0.45,0.055),(0.46,0.04),(0.47,0.06),(0.48,0.03),(0.48,0.07),(0.49,0.05),(0.50,0.035),(0.50,0.06),(0.51,0.045),(0.51,0.075),(0.52,0.058),(0.52,0.04),(0.53,0.05),(0.53,0.07),(0.54,0.035),(0.54,0.062),(0.55,0.05),(0.55,0.075),(0.56,0.04),(0.56,0.06),(0.57,0.03),(0.57,0.068),(0.58,0.05),(0.58,0.035),(0.59,0.055),(0.59,0.045),(0.60,0.03),(0.60,0.07),(0.61,0.05),(0.61,0.025),(0.62,0.04),(0.62,0.065),(0.63,0.055),(0.63,0.03),(0.64,0.058),(0.64,0.04),(0.65,0.045),(0.65,0.07),(0.66,0.035),(0.66,0.055),(0.67,0.03),(0.67,0.06),(0.68,0.04),(0.69,0.03),(0.70,0.05),(0.42,0.04),(0.43,0.03),(0.44,0.062),(0.41,0.05),(0.40,0.042),(0.38,0.035),(0.37,0.055),(0.39,0.06),(0.46,0.072),(0.49,0.082),(0.52,0.085),(0.56,0.082),(0.60,0.085),(0.63,0.08),(0.66,0.078),(0.53,0.09),(0.58,0.095),(0.47,0.09),(0.50,0.015),(0.53,0.01),(0.56,0.018),(0.59,0.012),(0.62,0.015),(0.64,0.02),(0.67,0.022),(0.70,0.03),(0.72,0.022),(0.69,0.012),(0.44,0.025),(0.41,0.025),(0.36,0.042),(0.33,0.02),(0.48,0.022)]

names = ["EWW", "LWW", "ARW", "EWD", "LWD", "ARD", "MIND", "MAXD", "ELBD"]
r_texts = ["R = 0.64", "R = 0.62", "R = 0.61", "R = 0.43", "R = 0.04", "R = 0.30", "R = 0.45", "R = -0.11", "R = -0.06"]
series = [EWW + EWW_CORE, LWW + LWW_CORE, ARW + ARW_CORE, EWD + EWD_CORE, LWD + LWD_CORE,
          ARD + ARD_CORE, MIND + MIND_CORE, MAXD + MAXD_CORE, ELBD + ELBD_CORE]

x_ticks = [[0.0, 0.5, 1.0, 1.5, 2.0, 2.5, 3.0], [0.0, 0.2, 0.4, 0.6, 0.8, 1.0], [0.0, 0.5, 1.0, 1.5, 2.0, 2.5, 3.0, 3.5],
           [0.2, 0.3, 0.4, 0.5, 0.6, 0.7], [0.3, 0.4, 0.5, 0.6, 0.7, 0.8, 0.9], [0.2, 0.3, 0.4, 0.5, 0.6, 0.7, 0.8],
           [0.2, 0.3, 0.4, 0.5, 0.6], [0.4, 0.5, 0.6, 0.7, 0.8, 0.9, 1.0, 1.1], [0.3, 0.4, 0.5, 0.6, 0.7, 0.8]]
x_tick_labels = [["0.0", "0.5", "1.0", "1.5", "2.0", "25", "3.0"], ["0.0", "0.2", "0.4", "0.6", "0.8", "1.0"],
                 ["0.0", "0.5", "1.0", "1.5", "2.0", "2.5", "3.0", "3.5"], ["0.2", "0.3", "0.4", "0.5", "0.6", "0.7"],
                 ["0.3", "0.4", "0.5", "0.6", "0.7", "0.8", "0.9"], ["0.2", "0.3", "0.4", "0.5", "0.6", "0.7", "0.8"],
                 ["0.2", "0.3", "0.4", "0.5", "0.6"], ["0.4", "0.5", "0.6", "0.7", "0.8", "0.9", "1.0", "1.1"],
                 ["0.3", "0.4", "0.5", "0.6", "0.7", "0.8"]]
y_ticks = [[0.0, 0.1, 0.2, 0.3, 0.4], [0.0, 0.1, 0.2, 0.3, 0.4, 0.5], [0.0, 0.1, 0.2, 0.3, 0.4, 0.5, 0.6],
           [0.0, 0.05, 0.1], [0.0, 0.05, 0.1], [0.0, 0.05, 0.1], [0.0, 0.03, 0.06], [0.0, 0.1, 0.2], [0.0, 0.05, 0.1]]
y_tick_labels = [["0.0", "0.1", "0.2", "0.3", "0.4"], ["0.0", "0.1", "0.2", "0.3", "0.4", "0.5"],
                 ["0.0", "0.1", "0.2", "0.3", "0.4", "0.5", "0.6"], ["0.0", "0.05", "0.1"], ["0.0", "0.05", "0.1"],
                 ["0.0", "0.05", "0.1"], ["0.0", "0.03", "0.06"], ["0.0", "0.1", "0.2"], ["0.0", "0.05", "0.1"]]

# ---------------- layout / style (not data) ----------------
x_ranges = [(-0.23, 3.26), (0.0, 1.09), (0.0, 3.72), (0.155, 0.70), (0.3, 0.9), (0.2, 0.8),
            (0.146, 0.624), (0.3185, 1.1456), (0.255, 0.80)]
y_ranges = [(-0.05, 0.50), (-0.049, 0.553), (-0.049, 0.654), (-0.0098, 0.1098), (-0.0096, 0.152),
            (-0.01, 0.1304), (-0.0051, 0.0753), (-0.0252, 0.2247), (-0.01, 0.1304)]
x_minor_step = [0.1, 0.1, 0.1, 0.05, 0.05, 0.05, 0.05, 0.05, 0.05]
y_minor_step = [0.05, 0.05, 0.05, 0.01, 0.01, 0.01, 0.01, 0.02, 0.01]
label_pos = [(2.74, 0.324, 0.291), (0.92, 0.428, 0.392), (3.05, 0.584, 0.534), (0.60, 0.0899, 0.0826),
             (0.815, 0.1325, 0.1229), (0.702, 0.1086, 0.100), (0.535, 0.064, 0.0589), (1.022, 0.193, 0.177),
             (0.707, 0.1125, 0.1037)]
CELL_W = 271
row_h = [239, 240, 240]
col_left = [30, 37, 40]
col_right = [16, 9, 5]
row_top = [1, 7, 14]
row_bottom = [43, 35, 27]
ylab_standoff = [-5, -1, 0]
xlab_standoff = [5, 5, 3]
xtick_standoff = [3, 3, 2]

FONT = "Liberation Sans"


def minors(lo, hi, step):
    out = []
    k = int(lo / step) - 1
    while k * step <= hi + 1e-9:
        v = round(k * step, 6)
        if lo <= v <= hi:
            out.append(v)
        k += 1
    return out


def style_axis(ax, ticks, labels, minor, show_labels):
    ax.ticker = FixedTicker(ticks=ticks, minor_ticks=minor)
    ax.major_tick_in = 4
    ax.major_tick_out = 0
    ax.minor_tick_in = 2
    ax.minor_tick_out = 0
    ax.axis_line_color = "black"
    ax.major_tick_line_color = "black"
    ax.minor_tick_line_color = "black"
    ax.axis_line_width = 1
    if show_labels:
        ax.major_label_overrides = {t: l for t, l in zip(ticks, labels)}
        ax.major_label_text_font = FONT
        ax.major_label_text_font_size = "9px"
        ax.major_label_text_color = "#111111"
        ax.major_label_standoff = 3
        ax.axis_label_text_font = FONT
        ax.axis_label_text_font_size = "11px"
        ax.axis_label_text_font_style = "normal"
        ax.axis_label_text_color = "#333333"
    else:
        ax.major_label_text_font_size = "0px"
        ax.major_label_text_color = None
        ax.major_label_standoff = 0
        ax.axis_label = None


figs = []
for i in range(9):
    r, c = divmod(i, 3)
    xr, yr = x_ranges[i], y_ranges[i]
    p = figure(width=CELL_W, height=row_h[r], output_backend="svg", toolbar_location=None,
               x_range=Range1d(*xr), y_range=Range1d(*yr),
               min_border_left=col_left[c], min_border_right=col_right[c],
               min_border_top=row_top[r], min_border_bottom=row_bottom[r],
               x_axis_label="MEAN", y_axis_label="STANDARD DEVIATION")
    p.xgrid.visible = False
    p.ygrid.visible = False
    p.outline_line_color = "black"
    p.outline_line_width = 1
    p.background_fill_color = "white"
    p.border_fill_color = "white"

    pts = series[i]
    xs = [a for a, b in pts]
    ys = [b for a, b in pts]
    p.scatter(xs, ys, marker="circle", size=4.8, fill_color=None, line_color="#2a2a2a", line_width=0.75)

    xm = minors(xr[0], xr[1], x_minor_step[i])
    ym = minors(yr[0], yr[1], y_minor_step[i])
    style_axis(p.xaxis[0], x_ticks[i], x_tick_labels[i], xm, True)
    style_axis(p.yaxis[0], y_ticks[i], y_tick_labels[i], ym, True)
    p.xaxis[0].axis_label_standoff = xlab_standoff[r]
    p.xaxis[0].major_label_standoff = xtick_standoff[r]
    p.yaxis[0].axis_label_standoff = ylab_standoff[c]
    top = LinearAxis()
    right = LinearAxis()
    style_axis(top, x_ticks[i], x_tick_labels[i], xm, False)
    style_axis(right, y_ticks[i], y_tick_labels[i], ym, False)
    p.add_layout(top, "above")
    p.add_layout(right, "right")

    lx, ly1, ly2 = label_pos[i]
    for txt, yy in ((names[i], ly1), (r_texts[i], ly2)):
        p.add_layout(Label(x=lx, y=yy, text=txt, text_align="center", text_baseline="middle",
                           text_font=FONT, text_font_size="10px", text_color="#111111"))
    figs.append(p)

layout = column(row(*figs[0:3]), row(*figs[3:6]), row(*figs[6:9]))
open("out.html", "w").write(file_html(layout, INLINE))
